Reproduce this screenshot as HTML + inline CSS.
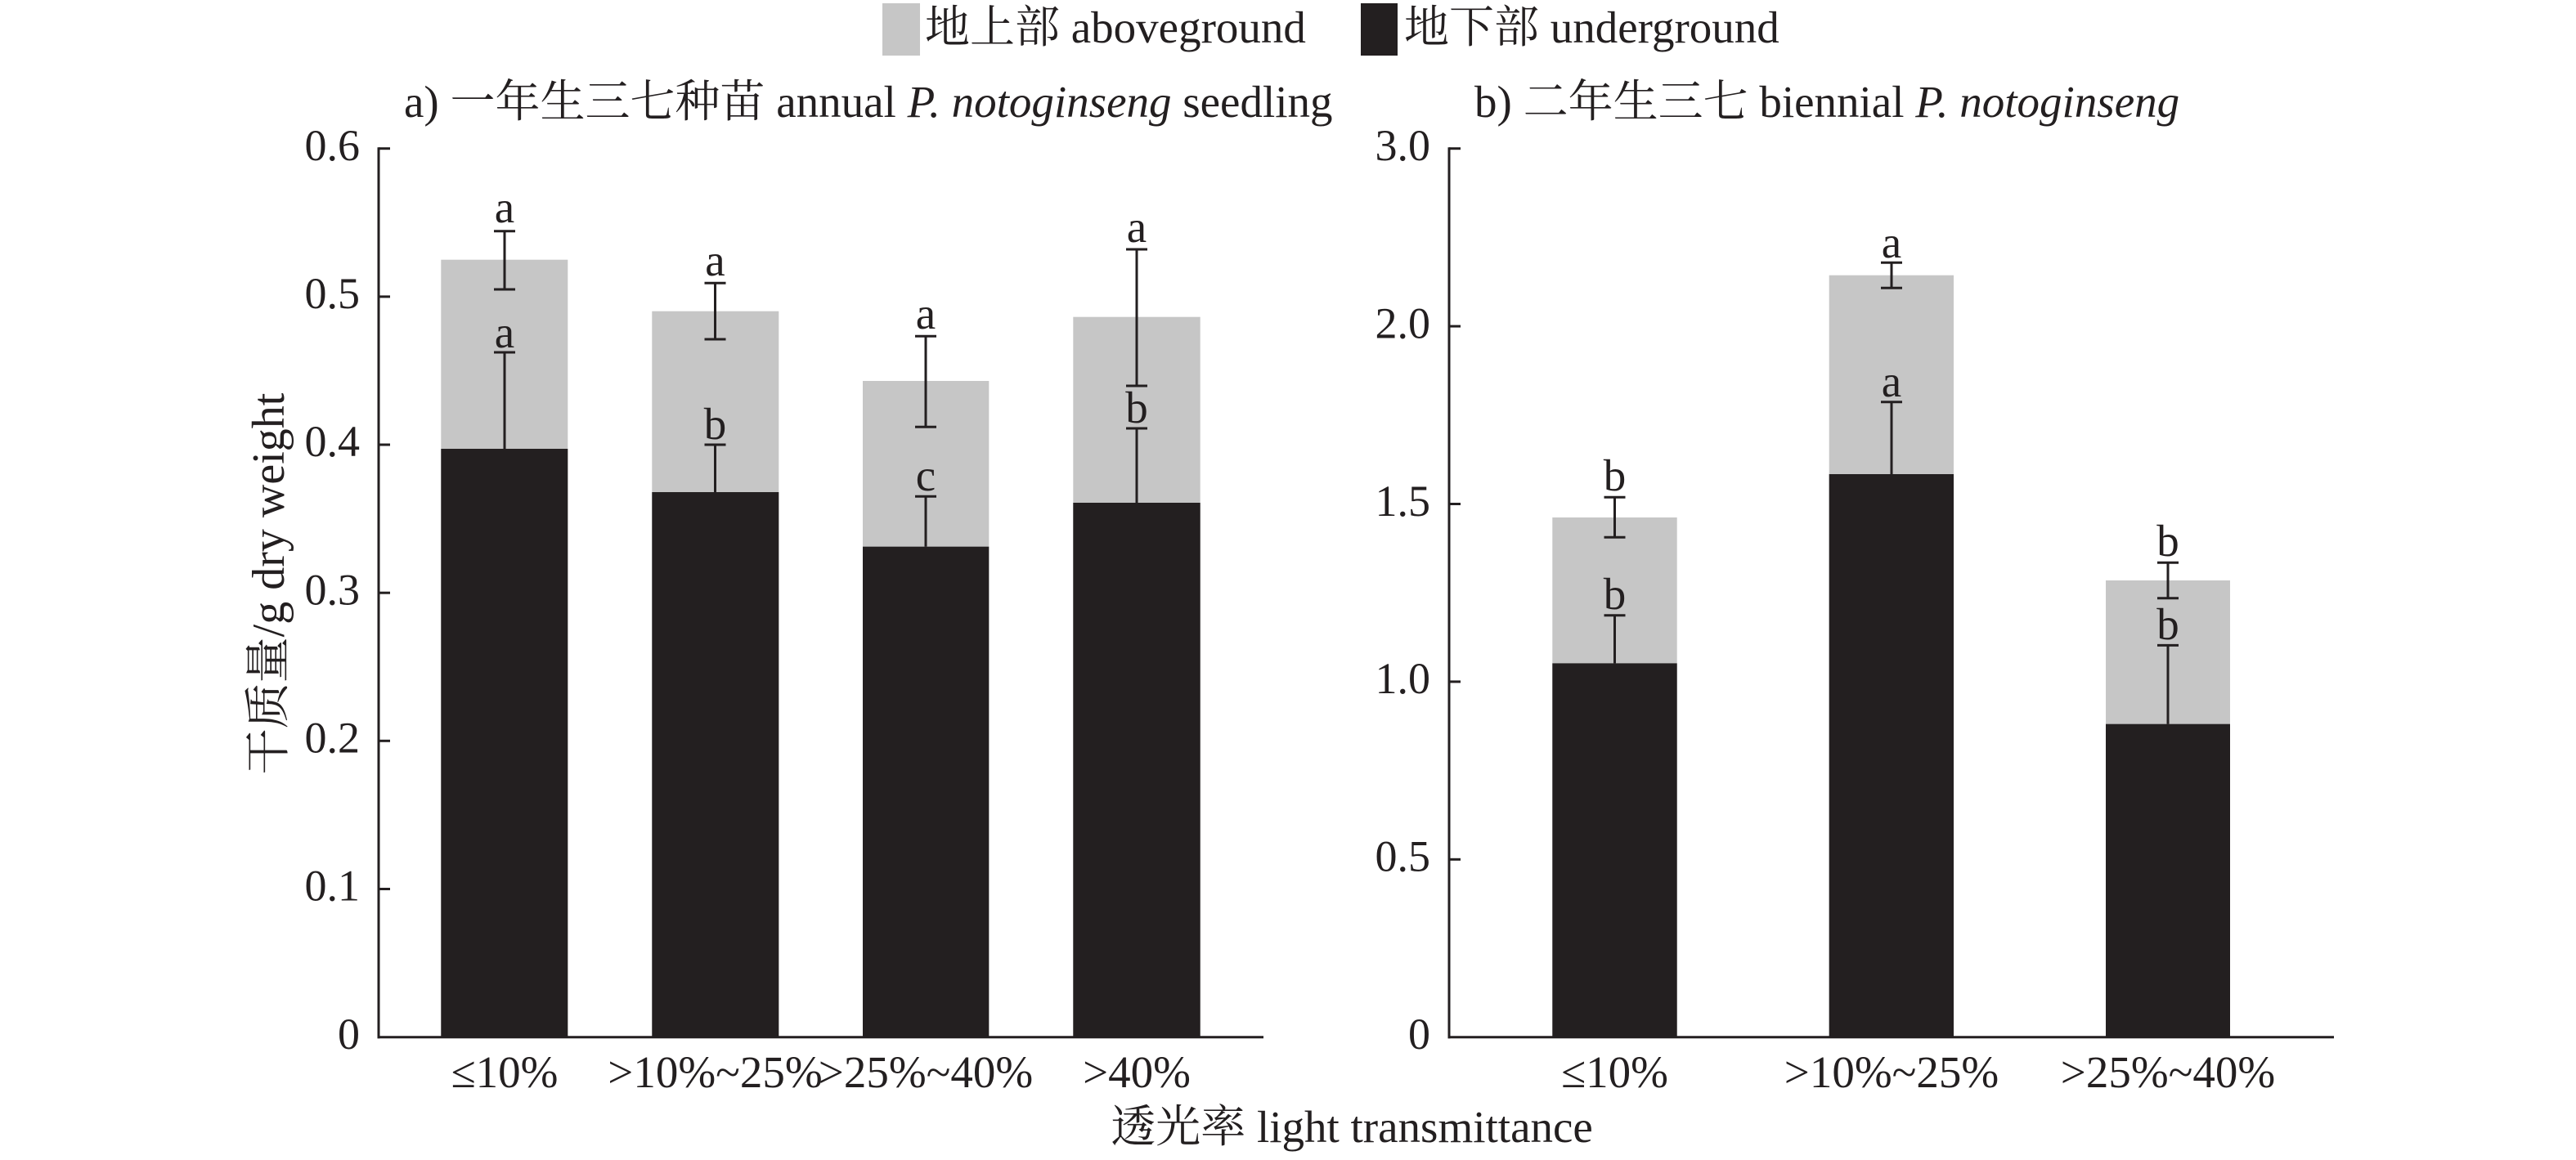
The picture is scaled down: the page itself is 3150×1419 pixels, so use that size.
<!DOCTYPE html>
<html><head><meta charset="utf-8"><style>
html,body{margin:0;padding:0;background:#fff;}
svg{display:block;}
text{font-family:"Liberation Serif","Noto Serif CJK SC",serif;fill:#231f20;}
</style></head><body>
<svg width="3150" height="1419" viewBox="0 0 3150 1419" xmlns="http://www.w3.org/2000/svg">
<!-- Legend -->
<rect x="1079" y="4" width="46" height="64" fill="#c6c6c6"/>
<text x="1131" y="52" font-size="55">地上部 aboveground</text>
<rect x="1664" y="4" width="45" height="64" fill="#231f20"/>
<text x="1717" y="52" font-size="55">地下部 underground</text>

<!-- Titles -->
<text x="494" y="143" font-size="55">a) 一年生三七种苗 annual <tspan font-style="italic">P. notoginseng</tspan> seedling</text>
<text x="1803" y="143" font-size="55">b) 二年生三七 biennial <tspan font-style="italic">P. notoginseng</tspan></text>

<!-- Y axis label -->
<text transform="translate(347,714) rotate(-90)" text-anchor="middle" font-size="56">干质量/g dry weight</text>

<!-- X axis title -->
<text x="1653" y="1397" text-anchor="middle" font-size="55">透光率 light transmittance</text>

<!-- ===== Panel a ===== -->
<g>
<rect x="539.3" y="317.7" width="155" height="951" fill="#c6c6c6"/>
<rect x="539.3" y="549" width="155" height="719.7" fill="#231f20"/>
<rect x="797.3" y="380.7" width="155" height="888" fill="#c6c6c6"/>
<rect x="797.3" y="602" width="155" height="666.7" fill="#231f20"/>
<rect x="1055" y="466" width="154.3" height="802.7" fill="#c6c6c6"/>
<rect x="1055" y="668.7" width="154.3" height="600" fill="#231f20"/>
<rect x="1312.3" y="387.7" width="155.4" height="881" fill="#c6c6c6"/>
<rect x="1312.3" y="615" width="155.4" height="653.7" fill="#231f20"/>

<g stroke="#231f20" stroke-width="3" fill="none">
<line x1="617" y1="282.7" x2="617" y2="354"/><line x1="604" y1="282.7" x2="630" y2="282.7"/><line x1="604" y1="354" x2="630" y2="354"/>
<line x1="617" y1="431" x2="617" y2="549"/><line x1="604" y1="431" x2="630" y2="431"/>
<line x1="874.5" y1="346.3" x2="874.5" y2="415"/><line x1="861.5" y1="346.3" x2="887.5" y2="346.3"/><line x1="861.5" y1="415" x2="887.5" y2="415"/>
<line x1="874.5" y1="544" x2="874.5" y2="602"/><line x1="861.5" y1="544" x2="887.5" y2="544"/>
<line x1="1132" y1="411.3" x2="1132" y2="522.3"/><line x1="1119" y1="411.3" x2="1145" y2="411.3"/><line x1="1119" y1="522.3" x2="1145" y2="522.3"/>
<line x1="1132" y1="607.3" x2="1132" y2="668.7"/><line x1="1119" y1="607.3" x2="1145" y2="607.3"/>
<line x1="1390" y1="305" x2="1390" y2="472"/><line x1="1377" y1="305" x2="1403" y2="305"/><line x1="1377" y1="472" x2="1403" y2="472"/>
<line x1="1390" y1="524" x2="1390" y2="615"/><line x1="1377" y1="524" x2="1403" y2="524"/>
</g>

<g font-size="55" text-anchor="middle">
<text x="617" y="272">a</text><text x="617" y="425">a</text>
<text x="874.5" y="337">a</text><text x="874.5" y="537">b</text>
<text x="1132" y="402">a</text><text x="1132" y="600">c</text>
<text x="1390" y="296">a</text><text x="1390" y="517">b</text>
</g>

<g stroke="#231f20" stroke-width="3" fill="none">
<line x1="463" y1="180.2" x2="463" y2="1270.2"/>
<line x1="461.5" y1="1268.7" x2="1545" y2="1268.7"/>
<line x1="463" y1="181.7" x2="477" y2="181.7"/>
<line x1="463" y1="362.9" x2="477" y2="362.9"/>
<line x1="463" y1="544" x2="477" y2="544"/>
<line x1="463" y1="725.2" x2="477" y2="725.2"/>
<line x1="463" y1="906.3" x2="477" y2="906.3"/>
<line x1="463" y1="1087.5" x2="477" y2="1087.5"/>
</g>
<g font-size="54" text-anchor="end">
<text x="440" y="196">0.6</text>
<text x="440" y="377">0.5</text>
<text x="440" y="558">0.4</text>
<text x="440" y="739.5">0.3</text>
<text x="440" y="920.5">0.2</text>
<text x="440" y="1101.5">0.1</text>
<text x="440" y="1283">0</text>
</g>
<g font-size="55" text-anchor="middle">
<text x="617" y="1330">≤10%</text>
<text x="874.5" y="1330">&gt;10%~25%</text>
<text x="1132" y="1330">&gt;25%~40%</text>
<text x="1390" y="1330">&gt;40%</text>
</g>
</g>

<!-- ===== Panel b ===== -->
<g>
<rect x="1898.3" y="633" width="152.4" height="635.7" fill="#c6c6c6"/>
<rect x="1898.3" y="811.4" width="152.4" height="457.3" fill="#231f20"/>
<rect x="2236.7" y="336.7" width="152.3" height="932" fill="#c6c6c6"/>
<rect x="2236.7" y="580" width="152.3" height="688.7" fill="#231f20"/>
<rect x="2575" y="710" width="152" height="558.7" fill="#c6c6c6"/>
<rect x="2575" y="885.7" width="152" height="383" fill="#231f20"/>

<g stroke="#231f20" stroke-width="3" fill="none">
<line x1="1974.5" y1="608.3" x2="1974.5" y2="657.3"/><line x1="1961.5" y1="608.3" x2="1987.5" y2="608.3"/><line x1="1961.5" y1="657.3" x2="1987.5" y2="657.3"/>
<line x1="1974.5" y1="752.7" x2="1974.5" y2="811.4"/><line x1="1961.5" y1="752.7" x2="1987.5" y2="752.7"/>
<line x1="2313" y1="321.3" x2="2313" y2="352.3"/><line x1="2300" y1="321.3" x2="2326" y2="321.3"/><line x1="2300" y1="352.3" x2="2326" y2="352.3"/>
<line x1="2313" y1="491.7" x2="2313" y2="580"/><line x1="2300" y1="491.7" x2="2326" y2="491.7"/>
<line x1="2651" y1="688.3" x2="2651" y2="731.7"/><line x1="2638" y1="688.3" x2="2664" y2="688.3"/><line x1="2638" y1="731.7" x2="2664" y2="731.7"/>
<line x1="2651" y1="789.4" x2="2651" y2="885.7"/><line x1="2638" y1="789.4" x2="2664" y2="789.4"/>
</g>

<g font-size="55" text-anchor="middle">
<text x="1974.5" y="600">b</text><text x="1974.5" y="745">b</text>
<text x="2313" y="315">a</text><text x="2313" y="485">a</text>
<text x="2651" y="680">b</text><text x="2651" y="782">b</text>
</g>

<g stroke="#231f20" stroke-width="3" fill="none">
<line x1="1772" y1="180.2" x2="1772" y2="1270.2"/>
<line x1="1770.5" y1="1268.7" x2="2854" y2="1268.7"/>
<line x1="1772" y1="181.7" x2="1786" y2="181.7"/>
<line x1="1772" y1="399.1" x2="1786" y2="399.1"/>
<line x1="1772" y1="616.5" x2="1786" y2="616.5"/>
<line x1="1772" y1="833.9" x2="1786" y2="833.9"/>
<line x1="1772" y1="1051.3" x2="1786" y2="1051.3"/>
</g>
<g font-size="54" text-anchor="end">
<text x="1749" y="196">3.0</text>
<text x="1749" y="413.5">2.0</text>
<text x="1749" y="631">1.5</text>
<text x="1749" y="848">1.0</text>
<text x="1749" y="1065.5">0.5</text>
<text x="1749" y="1283">0</text>
</g>
<g font-size="55" text-anchor="middle">
<text x="1974.5" y="1330">≤10%</text>
<text x="2313" y="1330">&gt;10%~25%</text>
<text x="2651" y="1330">&gt;25%~40%</text>
</g>
</g>
</svg>
</body></html>
